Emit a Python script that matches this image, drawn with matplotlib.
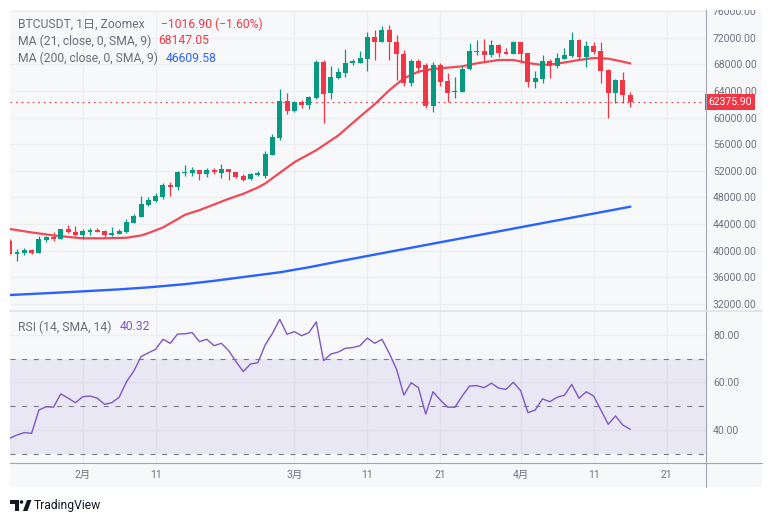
import numpy as np
import matplotlib.pyplot as plt
from matplotlib.patches import Rectangle, Polygon, Circle
from matplotlib.lines import Line2D
from matplotlib.transforms import Affine2D

plt.rcParams['font.family'] = ['Roboto', 'Noto Sans CJK JP', 'DejaVu Sans']

# daily candles, day 0 = 1 Feb (first candle is 22 Jan)
first_day = -10
opens = [41500, 39500, 39650, 40050, 39700, 41650, 42050, 41800, 43250, 42850,
         42400, 42850, 43150, 42950, 42400, 42550, 42800, 44200, 45100, 46900,
         47500, 48100, 49950, 49500, 51700, 51700, 52150, 51600, 52200, 51700,
         52300, 51850, 51250, 50750, 51450, 51250, 54400, 57000, 62500, 61000,
         62300, 61900, 62900, 68400, 63650, 66000, 66750, 68150, 68250, 68800,
         72150, 71350, 73150, 71400, 69500, 65250, 68450, 67950, 61750, 67950,
         65500, 63800, 63900, 67250, 69850, 69950, 69450, 70900, 69850, 69600,
         71350, 69700, 65400, 65850, 68450, 67800, 68850, 69250, 71650, 69150,
         70750, 70000, 67150, 63750, 65650, 63392.8]
highs = [41700, 40200, 40400, 40300, 42200, 42200, 42800, 43300, 43850, 43700,
         43250, 43400, 43350, 43100, 43550, 43250, 44750, 45500, 48200, 48000,
         48700, 50200, 50350, 51950, 52900, 52550, 52200, 52450, 52450, 53000,
         52300, 51850, 51550, 51650, 51950, 54950, 57500, 64300, 63700, 62500,
         62600, 63300, 68600, 68700, 67800, 67400, 70300, 68750, 70000, 72900,
         73150, 73750, 73950, 72400, 70150, 68850, 68850, 68250, 68350, 68250,
         66650, 66050, 67700, 71150, 71650, 71750, 71650, 71050, 70450, 71500,
         71400, 69700, 67000, 69450, 68750, 69700, 70450, 72850, 71750, 71500,
         71350, 71350, 67300, 65850, 66850, 63850]
lows = [39450, 38500, 39400, 39500, 39650, 41350, 41500, 41750, 42600, 42250,
        41750, 42400, 42800, 42050, 42200, 42500, 42700, 44100, 45000, 46700,
        47300, 47700, 48200, 49100, 51300, 51250, 50600, 51100, 51600, 51000,
        50600, 50900, 50500, 50600, 51250, 51000, 54400, 56700, 60600, 60800,
        61400, 61300, 62800, 59200, 62800, 65750, 66150, 67950, 68150, 67050,
        68650, 71300, 68650, 65600, 64800, 64750, 66650, 61400, 60900, 64800,
        62300, 63000, 63850, 67100, 69350, 68350, 69150, 69150, 69550, 69550,
        68150, 64650, 64500, 65150, 66000, 67500, 68800, 69150, 68850, 67650,
        69550, 65250, 60000, 62250, 62250, 61650]
closes = [39500, 39860, 40050, 39700, 41750, 42050, 41700, 43250, 42850, 42350,
          42950, 43050, 42850, 42350, 42700, 42950, 44300, 45200, 47000, 47600,
          48200, 49800, 49500, 51800, 51850, 52150, 51600, 52150, 51800, 52300,
          51800, 51100, 50700, 51550, 51750, 54550, 57100, 62500, 61000, 62300,
          61900, 63100, 68400, 63600, 66100, 66850, 68250, 68450, 69000, 72150,
          71350, 73150, 71400, 69500, 65250, 68450, 67500, 61750, 67950, 65400,
          63750, 64000, 67250, 69950, 70050, 69450, 70900, 69750, 69550, 71350,
          69600, 65400, 65950, 68450, 67750, 68950, 69400, 71650, 69150, 70750,
          69850, 67050, 63750, 65650, 63392.8, 62375.9]

ma21_days = [-10, -7, -4, -2, 0, 3, 6, 8, 9, 11, 13, 14, 16, 18, 20, 22, 24, 25,
             27, 29, 32, 35, 38, 40, 42, 44, 46, 48, 50, 52, 54, 57, 59, 61, 63,
             65, 68, 70, 72, 74, 75]
ma21_vals = [43270, 42750, 42300, 42080, 41870, 41870, 41950, 42300, 42650, 43500,
             44750, 45400, 46100, 46950, 47800, 48550, 49500, 50100, 51700, 53300,
             55100, 57300, 60150, 62000, 64100, 65900, 66900, 67300, 67500, 67700,
             68150, 68650, 68650, 68200, 67900, 68100, 68650, 68950, 68850, 68400,
             68147.05]

ma200_days = [-10, -5, 0, 5, 9, 14, 18, 22, 27, 31, 35, 40, 45, 50, 55, 60, 65, 70, 75]
ma200_vals = [33350, 33620, 33900, 34200, 34500, 34980, 35480, 36050, 36760, 37520,
              38380, 39420, 40450, 41480, 42500, 43530, 44560, 45580, 46609.58]

rsi = [36.5, 37.9, 38.9, 38.6, 48.4, 49.8, 49.6, 55.2, 53.4, 51.5,
       54.0, 54.3, 53.4, 50.8, 51.5, 53.8, 60.3, 64.8, 70.9, 72.5,
       74.0, 78.2, 76.5, 80.4, 80.5, 81.0, 77.2, 78.2, 75.5, 76.5,
       73.4, 68.8, 64.6, 67.8, 68.3, 75.8, 80.7, 86.6, 80.3, 81.4,
       79.7, 81.0, 85.5, 69.2, 72.0, 72.8, 74.4, 74.7, 75.5, 78.7,
       76.5, 78.2, 72.3, 65.6, 54.7, 59.9, 57.8, 46.7, 56.1, 52.6,
       49.6, 49.6, 54.3, 58.5, 58.7, 57.8, 59.7, 57.6, 57.1, 60.1,
       56.6, 47.3, 48.4, 53.1, 51.9, 53.8, 54.6, 59.2, 53.4, 56.1,
       54.3, 48.4, 42.4, 45.9, 42.1, 40.32]

tick_days = [0, 10, 29, 39, 49, 60, 70, 80]
tick_labels = ['2月', '11', '3月', '11', '21', '4月', '11', '21']
price_ticks = list(range(32000, 76001, 4000))
rsi_ticks = [40, 60, 80]

GREEN = '#089981'
RED = '#F23645'
BLUE = '#2962FF'
PURPLE = '#7E57C2'
BG = '#F7F8FA'
GRID = '#ECEEF2'
AXC = '#6F7380'

W, H = 772, 523
fig = plt.figure(figsize=(W / 100, H / 100), dpi=100, facecolor='white')
px = Affine2D().scale(1, -1).translate(0, H)  # pixel coords, origin top-left

fig.add_artist(Rectangle((10, 10), 752, 477, transform=px, fc=BG, ec='none', zorder=-5))

ax1 = fig.add_axes([10 / W, 1 - 310 / H, 696 / W, 300 / H], facecolor=BG)
ax2 = fig.add_axes([10 / W, 1 - 463 / H, 696 / W, 152 / H], facecolor=BG)

x = np.arange(first_day, first_day + len(closes))
o = np.array(opens)
c = np.array(closes)
cols = np.where(c >= o, GREEN, RED)

# main pane
ax1.plot(ma200_days, ma200_vals, color=BLUE, lw=1.7, zorder=2)
ax1.plot(ma21_days, ma21_vals, color=RED, lw=1.6, alpha=0.9, zorder=2)
ax1.vlines(x, lows, highs, colors=cols, lw=0.9, zorder=3)
ax1.bar(x, np.maximum(np.abs(c - o), 150), bottom=np.minimum(o, c), width=0.68,
        color=cols, lw=0, zorder=4)
ax1.axhline(closes[-1], color=RED, lw=0.8, ls=(0, (1.5, 3.5)), zorder=2)

ax1.set_xlim(-9.96, 85.4)
ax1.set_ylim(31100, 76160)
ax1.set_xticks(tick_days)
ax1.set_yticks(price_ticks, [f'{v:.2f}' for v in price_ticks])
ax1.yaxis.tick_right()
ax1.tick_params(axis='x', length=0, labelbottom=False)
ax1.tick_params(axis='y', length=0, pad=5, labelsize=7.5, labelcolor=AXC)
ax1.grid(True, color=GRID, lw=1)
ax1.set_axisbelow(True)
for s in ax1.spines.values():
    s.set_visible(False)

ax1.text(1.003, closes[-1], f'{closes[-1]:.2f}', transform=ax1.get_yaxis_transform(),
         ha='left', va='center', color='white', fontsize=7.5, clip_on=False, zorder=10,
         bbox=dict(boxstyle='square,pad=0.3', fc=RED, ec='none'))

# RSI pane
ax2.axhspan(30, 70, color=PURPLE, alpha=0.1, lw=0, zorder=1)
for lvl in (30, 50, 70):
    ax2.axhline(lvl, color='#787B86', lw=0.8, ls=(0, (4.5, 6)), zorder=2)
ax2.plot(x, rsi, color=PURPLE, lw=1, zorder=3)
ax2.set_xlim(-9.96, 85.4)
ax2.set_ylim(26.1, 90.1)
ax2.set_xticks(tick_days, tick_labels)
ax2.set_yticks(rsi_ticks, [f'{v:.2f}' for v in rsi_ticks])
ax2.yaxis.tick_right()
ax2.tick_params(axis='x', length=0, pad=5, labelsize=7.5, labelcolor=AXC)
ax2.tick_params(axis='y', length=0, pad=5, labelsize=7.5, labelcolor=AXC)
ax2.grid(True, color=GRID, lw=1)
ax2.set_axisbelow(True)
for s in ax2.spines.values():
    s.set_visible(False)

# pane borders
fig.add_artist(Line2D([706, 706], [10, 487], transform=px, color='#A3A6AF', lw=0.8, zorder=6))
fig.add_artist(Line2D([10, 762], [463, 463], transform=px, color='#A3A6AF', lw=0.8, zorder=6))
fig.add_artist(Line2D([10, 762], [310.5, 310.5], transform=px, color='#E0E3EB', lw=1.2, zorder=6))
fig.add_artist(Rectangle((0, 0), W, 10, transform=px, fc='white', ec='none', zorder=20))


# legends
def ptext(xp, yp, s, **kw):
    return fig.text(xp / W, 1 - yp / H, s, ha='left', va='center', **kw)


renderer = fig.canvas.get_renderer()
legend = [
    ('BTCUSDT, 1日, Zoomex', '\u22121016.90 (\u22121.60%)', RED, 24, 16),
    ('MA (21, close, 0, SMA, 9)', '68147.05', RED, 41, 7),
    ('MA (200, close, 0, SMA, 9)', '46609.58', BLUE, 58, 8),
    ('RSI (14, SMA, 14)', '40.32', PURPLE, 327, 8),
]
for label, value, col, yp, gap in legend:
    t = ptext(18, yp, label, fontsize=8.7, color='#6A6D78', zorder=8)
    bb = t.get_window_extent(renderer=renderer)
    ptext(bb.x1 + gap, yp, value, fontsize=8.7, color=col, zorder=8)

# TradingView mark
ink = '#131722'
fig.add_artist(Rectangle((10, 500), 8.5, 3.5, transform=px, fc=ink, ec='none'))
fig.add_artist(Rectangle((14.5, 500), 4, 11, transform=px, fc=ink, ec='none'))
fig.add_artist(Circle((21.5, 502), 1.8, transform=px, fc=ink, ec='none'))
fig.add_artist(Polygon([(23, 511), (27.5, 511), (31.5, 500), (27, 500)], closed=True,
                       transform=px, fc=ink, ec='none'))
ptext(34, 505.5, 'TradingView', fontsize=8.7, color=ink)

fig.savefig('out.png', dpi=100, facecolor='white')
